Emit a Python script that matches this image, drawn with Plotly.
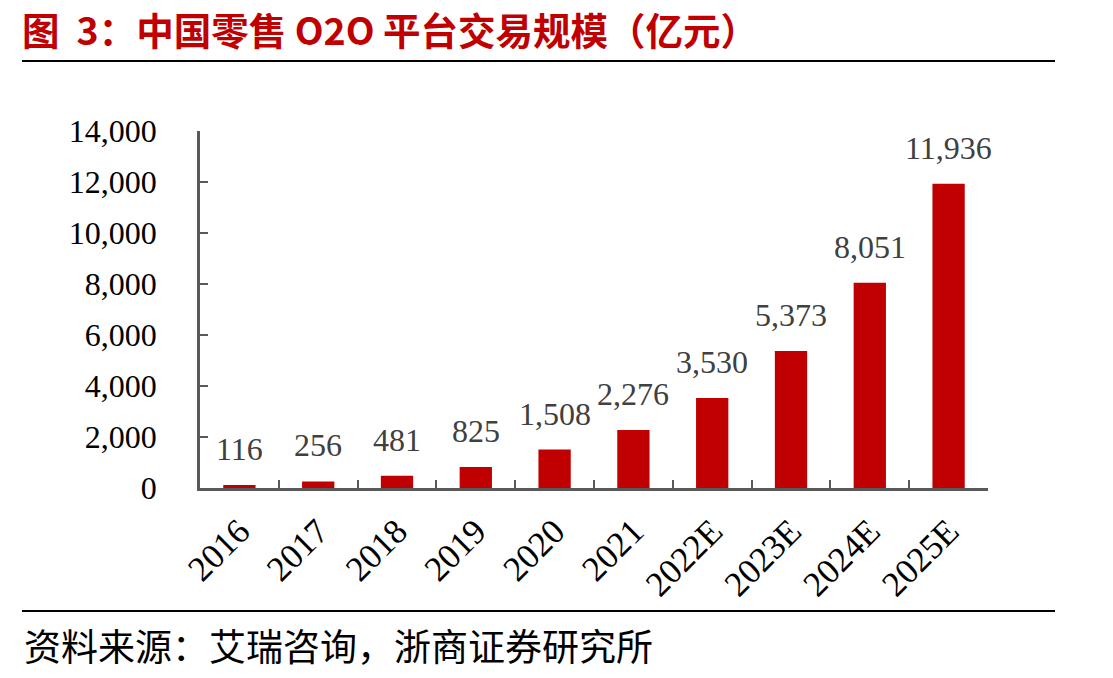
import plotly.graph_objects as go

categories = ["2016", "2017", "2018", "2019", "2020", "2021", "2022E", "2023E", "2024E", "2025E"]
values = [116, 256, 481, 825, 1508, 2276, 3530, 5373, 8051, 11936]
y_ticks = [0, 2000, 4000, 6000, 8000, 10000, 12000, 14000]
title_text = "图  3：中国零售 O2O 平台交易规模（亿元）"
source_text = "资料来源：艾瑞咨询，浙商证券研究所"

W, H = 1113, 678
L, R, T, B = 200, 988, 131, 488
pw, ph = R - L, B - T

def px(x):
    return (x - L) / pw

def py(y):
    return (B - y) / ph

fig = go.Figure()
fig.add_trace(go.Bar(
    x=categories, y=values,
    marker=dict(color="#C00000", line=dict(width=0)),
    hoverinfo="x+y",
))

label_annotations = [
    dict(x=i, y=v, xref="x", yref="y", text=f"{v:,}", showarrow=False,
         xanchor="center", yanchor="bottom", yshift=16,
         font=dict(family="Liberation Serif", size=32, color="#404040"))
    for i, v in enumerate(values)
]

fig.update_layout(
    width=W, height=H,
    margin=dict(l=L, r=W - R, t=T, b=H - B),
    paper_bgcolor="white", plot_bgcolor="white",
    bargap=0.59,
    showlegend=False,
    xaxis=dict(
        type="category",
        categoryorder="array", categoryarray=categories,
        range=[-0.5, len(categories) - 0.5],
        showline=True, linecolor="#595959", linewidth=2.5,
        ticks="inside", tickson="boundaries", ticklen=8, tickwidth=2, tickcolor="#595959",
        tickangle=-45,
        tickfont=dict(family="Liberation Serif", size=35, color="black"),
        ticklabelstandoff=6,
        showgrid=False,
    ),
    yaxis=dict(
        range=[0, 14000], tickvals=y_ticks, tickformat=",d",
        showline=True, linecolor="#595959", linewidth=2.5,
        ticks="inside", ticklen=8, tickwidth=2, tickcolor="#595959",
        tickfont=dict(family="Liberation Serif", size=32, color="black"),
        showgrid=False, zeroline=False,
        ticklabelstandoff=34,
    ),
    shapes=[
        dict(type="line", xref="paper", yref="paper", x0=px(22), x1=px(1055), y0=py(61), y1=py(61),
             line=dict(color="black", width=2)),
        dict(type="line", xref="paper", yref="paper", x0=px(22), x1=px(1055), y0=py(611), y1=py(611),
             line=dict(color="black", width=2)),
    ],
    annotations=label_annotations + [
        dict(text=title_text, xref="paper", yref="paper", x=px(20), y=py(29),
             xanchor="left", yanchor="middle", showarrow=False,
             font=dict(family="Noto Sans CJK SC", size=37.5, color="#C00000", weight="bold")),
        dict(text=source_text, xref="paper", yref="paper", x=px(22), y=py(645),
             xanchor="left", yanchor="middle", showarrow=False,
             font=dict(family="Noto Sans CJK SC", size=37, color="black")),
    ],
)

fig.write_html("out.html")
